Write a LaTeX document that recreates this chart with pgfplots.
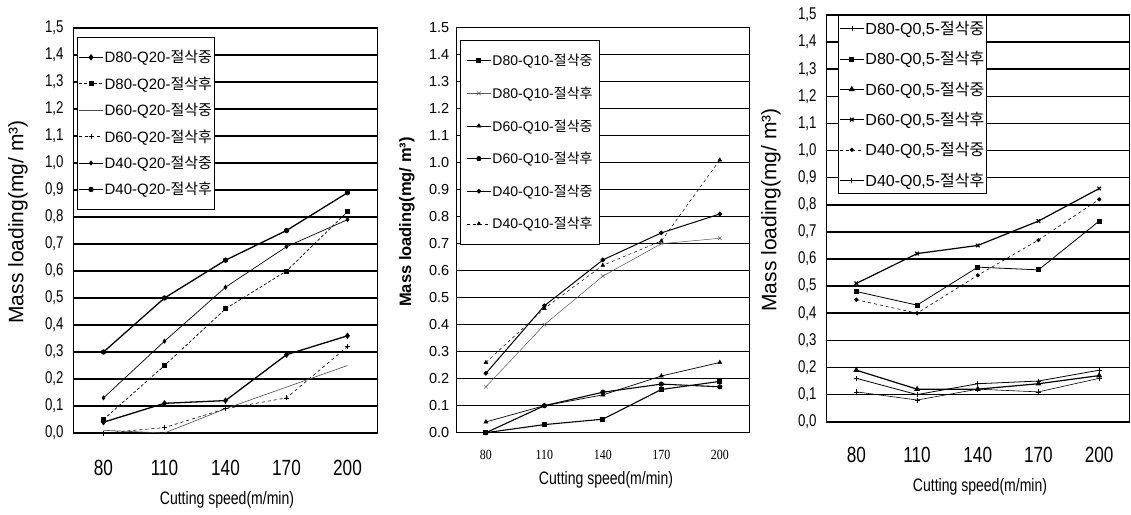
\documentclass[border=0pt]{standalone}
\usepackage{fontspec}
\usepackage{pgfplots}
\pgfplotsset{compat=1.18}
\setmainfont{Liberation Sans}
\newfontfamily\kr{Noto Sans CJK KR}
\newfontfamily\narrow[FakeStretch=0.78]{Liberation Sans}
\newfontfamily\narrowser[FakeStretch=0.85]{Liberation Serif}
\newcommand{\fs}[1]{\fontsize{#1}{#1}\selectfont}

\pgfplotsset{
  panel/.style={
    scale only axis, anchor=south west,
    xmin=-0.5, xmax=4.5, ymin=0, ymax=1.5,
    xtick={0,1,2,3,4}, xticklabels={80,110,140,170,200},
    xtick style={draw=none},
    extra x ticks={0.5,1.5,2.5,3.5}, extra x tick labels={},
    extra x tick style={grid=none, major tick length=5pt, tick align=inside, tick style={draw=black, line width=0.9pt}},
    ytick={0,0.1,0.2,0.3,0.4,0.5,0.6,0.7,0.8,0.9,1.0,1.1,1.2,1.3,1.4,1.5},
    ytick style={black, line width=0.8pt}, major tick length=4pt,
    /pgf/number format/fixed, /pgf/number format/fixed zerofill, /pgf/number format/precision=1,
    /pgf/number format/assume math mode=true,
    ymajorgrids, major grid style={black, line width=1.6pt},
    axis line style={black, line width=1pt},
    legend cell align=left,
    legend image code/.code={\draw[mark repeat=2,mark phase=2,##1] plot coordinates {(0pt,0pt) (12pt,0pt) (24pt,0pt)};},
    every axis plot/.append style={black, mark options={solid}},
  },
}

\begin{document}
\begin{tikzpicture}
\path[use as bounding box] (0pt,0pt) rectangle (1131pt,514pt);

% ---------------- Panel 1 ----------------
\begin{axis}[panel, at={(73pt,81pt)}, width=305pt, height=405pt,
  /pgf/number format/use comma,
  y tick label style={font=\narrow\fs{17}, xshift=-6pt},
  x tick label style={font=\narrow\fs{22}, yshift=-24pt},
  legend style={at={(rel axis cs:0.013,0.978)}, anchor=north west, draw=black, line width=0.8pt, fill=white,
    inner xsep=1pt, inner ysep=12pt, row sep=10.5pt, font=\fs{15}, nodes={inner sep=1pt}},
]
\addplot[line width=1.3pt, mark=diamond*, mark size=2.2pt] coordinates {(0,0.04)(1,0.11)(2,0.12)(3,0.29)(4,0.36)};
\addplot[line width=0.7pt, densely dashed, mark=square*, mark size=2pt] coordinates {(0,0.05)(1,0.25)(2,0.46)(3,0.60)(4,0.82)};
\addplot[line width=0.6pt, gray!60!black, no markers] coordinates {(0,0.01)(1,0.00)(2,0.09)(3,0.17)(4,0.25)};
\addplot[line width=0.6pt, dashed, mark=+, mark size=2.5pt] coordinates {(0,0.00)(1,0.02)(2,0.09)(3,0.13)(4,0.32)};
\addplot[line width=0.7pt, mark=diamond*, mark size=2pt] coordinates {(0,0.13)(1,0.34)(2,0.54)(3,0.69)(4,0.79)};
\addplot[line width=1.3pt, mark=*, mark size=2pt] coordinates {(0,0.30)(1,0.50)(2,0.64)(3,0.75)(4,0.89)};
\legend{D80-Q20-{\kr 절삭중}, D80-Q20-{\kr 절삭후}, D60-Q20-{\kr 절삭중}, D60-Q20-{\kr 절삭후}, D40-Q20-{\kr 절삭중}, D40-Q20-{\kr 절삭후}}
\end{axis}
\node[rotate=90, font=\fs{21}] at (18pt,292pt) {Mass loading(mg/ m³)};
\node[font=\narrow\fs{18}] at (227pt,14pt) {Cutting speed(m/min)};

% ---------------- Panel 2 ----------------
\begin{axis}[panel, at={(456.7pt,81.3pt)}, width=292.3pt, height=405pt,
  major grid style={black, line width=1.3pt},
  y tick label style={font=\fs{14.5}, xshift=-4pt},
  x tick label style={font=\narrowser\fs{14}, yshift=-14pt},
  legend style={at={(rel axis cs:0.011,0.97)}, anchor=north west, draw=black, line width=0.8pt, fill=white,
    inner xsep=6pt, inner ysep=13pt, row sep=17.5pt, font=\fs{14}, nodes={inner sep=1pt}},
]
\addplot[line width=1.1pt, mark=square*, mark size=2pt] coordinates {(0,0.00)(1,0.03)(2,0.05)(3,0.16)(4,0.19)};
\addplot[line width=0.5pt, gray!70!black, mark=x, mark size=2.5pt] coordinates {(0,0.17)(1,0.40)(2,0.58)(3,0.70)(4,0.72)};
\addplot[line width=0.7pt, mark=triangle*, mark size=2.2pt] coordinates {(0,0.04)(1,0.10)(2,0.14)(3,0.21)(4,0.26)};
\addplot[line width=1.1pt, mark=*, mark size=2pt] coordinates {(0,0.00)(1,0.10)(2,0.15)(3,0.18)(4,0.17)};
\addplot[line width=1pt, mark=*, mark size=1.8pt] coordinates {(0,0.22)(1,0.47)(2,0.64)(3,0.74)(4,0.81)};
\addplot[line width=0.5pt, dashed, mark=triangle*, mark size=2.2pt] coordinates {(0,0.26)(1,0.46)(2,0.62)(3,0.71)(4,1.01)};
\legend{D80-Q10-{\kr 절삭중}, D80-Q10-{\kr 절삭후}, D60-Q10-{\kr 절삭중}, D60-Q10-{\kr 절삭후}, D40-Q10-{\kr 절삭중}, D40-Q10-{\kr 절삭후}}
\end{axis}
\node[rotate=90, font=\bfseries\fs{16.5}] at (407pt,292pt) {Mass loading(mg/ m³)};
\node[font=\narrow\fs{18}] at (606pt,34pt) {Cutting speed(m/min)};

% ---------------- Panel 3 ----------------
\begin{axis}[panel, at={(826pt,92.3pt)}, width=303.5pt, height=406.7pt,
  /pgf/number format/use comma,
  y tick label style={font=\narrow\fs{17}, xshift=-6pt},
  x tick label style={font=\narrow\fs{22}, yshift=-22pt},
  legend style={at={(rel axis cs:0.039,1.0)}, anchor=north west, draw=black, line width=0.8pt, fill=white,
    inner xsep=1pt, inner ysep=5pt, row sep=13.5pt, font=\fs{16}, nodes={inner sep=1pt}},
]
\addplot[line width=0.6pt, mark=+, mark size=2.5pt] coordinates {(0,0.11)(1,0.08)(2,0.12)(3,0.11)(4,0.16)};
\addplot[line width=0.8pt, mark=square*, mark size=2pt] coordinates {(0,0.48)(1,0.43)(2,0.57)(3,0.56)(4,0.74)};
\addplot[line width=1.2pt, mark=triangle*, mark size=2.3pt] coordinates {(0,0.19)(1,0.12)(2,0.12)(3,0.14)(4,0.17)};
\addplot[line width=1.2pt, mark=x, mark size=2.5pt] coordinates {(0,0.51)(1,0.62)(2,0.65)(3,0.74)(4,0.86)};
\addplot[line width=0.6pt, dashed, mark=*, mark size=1.8pt] coordinates {(0,0.45)(1,0.40)(2,0.54)(3,0.67)(4,0.82)};
\addplot[line width=0.8pt, mark=+, mark size=2.5pt] coordinates {(0,0.16)(1,0.10)(2,0.14)(3,0.15)(4,0.19)};
\legend{{D80-Q0,5-{\kr 절삭중}}, {D80-Q0,5-{\kr 절삭후}}, {D60-Q0,5-{\kr 절삭중}}, {D60-Q0,5-{\kr 절삭후}}, {D40-Q0,5-{\kr 절삭중}}, {D40-Q0,5-{\kr 절삭후}}}
\end{axis}
\node[rotate=90, font=\fs{21}] at (771pt,304pt) {Mass loading(mg/ m³)};
\node[font=\narrow\fs{18}] at (980pt,27pt) {Cutting speed(m/min)};
\end{tikzpicture}
\end{document}
